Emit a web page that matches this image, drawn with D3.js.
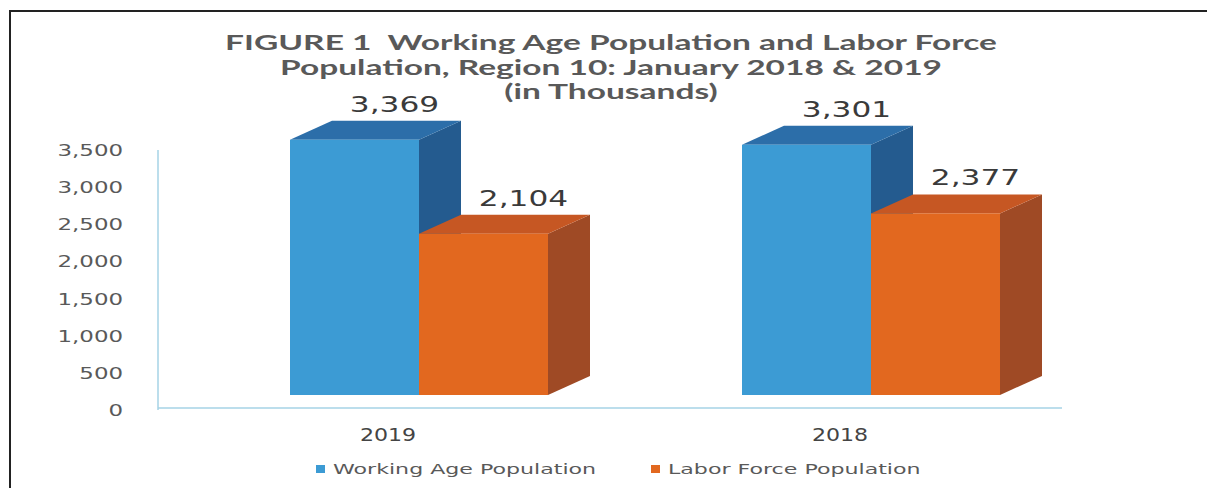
<!DOCTYPE html>
<html>
<head>
<meta charset="utf-8">
<script src="https://cdn.jsdelivr.net/npm/d3@7"></script>
<style>
  body { margin: 0; background: #fff; }
  svg { display: block; }
  text { white-space: pre; }
</style>
</head>
<body>
<div id="chart"></div>
<script>
// Data
const categories = ['2019', '2018'];
const seriesNames = ['Working Age Population', 'Labor Force Population'];
const workingAge = [3369, 3301];
const laborForce = [2104, 2377];
const yTicks = [0, 500, 1000, 1500, 2000, 2500, 3000, 3500];
const titleLines = [
    'FIGURE 1  Working Age Population and Labor Force',
    'Population, Region 10: January 2018 & 2019',
    '(in Thousands)'
];

const colors = {
    'Working Age Population': { front: '#3c9bd4', top: '#2c6ea9', side: '#245b8f' },
    'Labor Force Population': { front: '#e2681f', top: '#c65723', side: '#9f4a25' }
};

const width = 1207, height = 488;
const depthX = 42, depthY = -19;

const svg = d3.select('#chart')
    .append('svg')
    .attr('width', width)
    .attr('height', height);

// frame of the scanned page
svg.append('path')
    .attr('d', 'M10,490 L10,11 L1210,11')
    .attr('fill', 'none')
    .attr('stroke', '#222')
    .attr('stroke-width', 2);

// scales
const y = d3.scaleLinear().domain([0, 3500]).range([410, 150]);
const x0 = d3.scaleBand().domain(categories).range([162, 1066]);
const x1 = d3.scaleBand().domain(seriesNames).range([0, 258]);
const frontShift = (x0.bandwidth() - 258) / 2 + 31;

// the scanned original is stretched sideways, so texts get a horizontal scale
function stretchedText(g, x, yPos, str, sx) {
    return g.append('text')
        .attr('transform', `translate(${x},${yPos}) scale(${sx},1)`)
        .text(str);
}

// title
const title = svg.append('g')
    .attr('font-family', 'Lato, "Open Sans", sans-serif')
    .attr('font-weight', 'bold')
    .attr('font-size', '20px')
    .attr('fill', '#595959')
    .attr('text-anchor', 'middle');
const titleNodes = titleLines.map((line, i) => stretchedText(title, 611, 50 + i * 24.5, line, 1));
const titleSx = 772 / titleNodes[0].node().getComputedTextLength();
titleNodes.forEach((t, i) => t.attr('transform', `translate(611,${50 + i * 24.5}) scale(${titleSx},1)`));

// axis lines
svg.append('line')
    .attr('x1', 158).attr('x2', 158)
    .attr('y1', y(3500)).attr('y2', y(0))
    .attr('stroke', '#a6d3e6').attr('stroke-width', 1.5);
svg.append('line')
    .attr('x1', 158).attr('x2', 1062)
    .attr('y1', y(0) - 2).attr('y2', y(0) - 2)
    .attr('stroke', '#a6d3e6').attr('stroke-width', 1.5);

// y tick labels
const yLabels = svg.append('g')
    .attr('font-family', '"DejaVu Sans", Verdana, sans-serif')
    .attr('font-size', '16px')
    .attr('fill', '#595959')
    .attr('text-anchor', 'end');
yTicks.forEach(t => {
    stretchedText(yLabels, 123, y(t) + 6, d3.format(',')(t), 1.43);
});

// x category labels
const xLabels = svg.append('g')
    .attr('font-family', '"DejaVu Sans", Verdana, sans-serif')
    .attr('font-size', '17px')
    .attr('fill', '#444')
    .attr('text-anchor', 'middle');
categories.forEach(c => {
    stretchedText(xLabels, x0(c) + x0.bandwidth() / 2, 441, c, 1.3);
});

// 3D bars
const seriesValues = [workingAge, laborForce];
const bars = svg.append('g');
const labels = svg.append('g')
    .attr('font-family', '"DejaVu Sans", Verdana, sans-serif')
    .attr('font-size', '22px')
    .attr('fill', '#3a3a3a')
    .attr('text-anchor', 'middle');

categories.forEach((c, ci) => {
    seriesNames.forEach((s, si) => {
        const v = seriesValues[si][ci];
        const bx = x0(c) + frontShift + x1(s);
        const bw = x1.bandwidth();
        const yt = y(v) - 20;
        const yb = y(0) - 15;
        const col = colors[s];

        bars.append('polygon')
            .attr('points', [[bx + bw, yt], [bx + bw + depthX, yt + depthY],
                [bx + bw + depthX, yb + depthY], [bx + bw, yb]].join(' '))
            .attr('fill', col.side);
        bars.append('polygon')
            .attr('points', [[bx, yt], [bx + bw, yt],
                [bx + bw + depthX, yt + depthY], [bx + depthX, yt + depthY]].join(' '))
            .attr('fill', col.top);
        bars.append('rect')
            .attr('x', bx).attr('y', yt)
            .attr('width', bw).attr('height', yb - yt)
            .attr('fill', col.front);

        stretchedText(labels, bx + bw / 2 + 40, yt + depthY - 9, d3.format(',')(v), 1.42);
    });
});

// legend
const legend = svg.append('g')
    .attr('font-family', '"DejaVu Sans", Verdana, sans-serif')
    .attr('font-size', '14px')
    .attr('fill', '#595959');
const legendX = [316, 651];
seriesNames.forEach((s, i) => {
    legend.append('rect')
        .attr('x', legendX[i]).attr('y', 465)
        .attr('width', 9).attr('height', 8)
        .attr('fill', colors[s].front);
    stretchedText(legend, legendX[i] + 17, 474, s, 1.58);
});
</script>
</body>
</html>
